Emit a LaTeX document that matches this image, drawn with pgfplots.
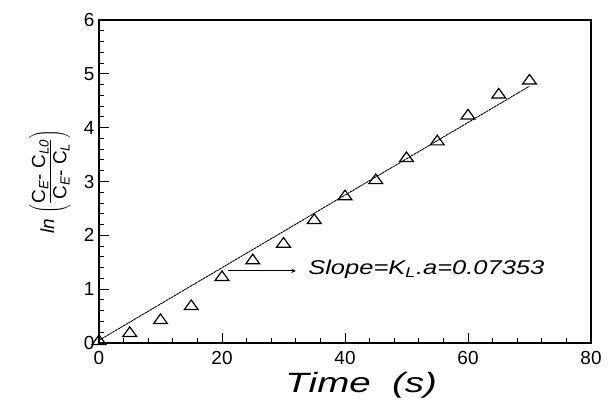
\documentclass[border=0pt]{standalone}
\usepackage{fontspec}
\setmainfont{Liberation Sans}
\usepackage{graphicx}
\usepackage{pgfplots}
\pgfplotsset{compat=1.18}
\begin{document}
\begin{tikzpicture}[x=1bp,y=1bp]
\useasboundingbox (0,0) rectangle (612,412);
\begin{axis}[
  at={(99bp,69bp)}, anchor=south west,
  scale only axis, width=492bp, height=323bp,
  xmin=0, xmax=80, ymin=0, ymax=6,
  xtick={0,20,40,60,80}, ytick={0,1,2,3,4,5,6},
  minor x tick num=4, minor y tick num=4,
  xtick pos=lower, ytick pos=left,
  tick align=inside,
  major tick length=10bp, minor tick length=5bp,
  axis line style={line width=1.3bp},
  every tick/.style={line width=1bp, black},
  /pgf/number format/assume math mode=true,
  tick label style={font=\fontsize{19}{21}\selectfont},
  xticklabel style={yshift=-5bp},
  yticklabel style={xshift=-1bp},
  xlabel={\scalebox{1.38}[1]{\textit{Time\ \ (s)}}},
  xlabel style={font=\fontsize{28}{30}\selectfont, at={(axis description cs:0.533,-0.13)}, anchor=center},
  ylabel={\textit{ln} $\left(\rule[-16bp]{0pt}{36bp}\frac{\mbox{\rule[-4bp]{0pt}{10bp}C\textsubscript{\textit{E}}- C\textsubscript{\textit{L0}}}}{\mbox{\rule{0pt}{16bp}C\textsubscript{\textit{E}}- C\textsubscript{\textit{L}}}}\right)$},
  ylabel style={font=\fontsize{19}{22}\selectfont, at={(axis description cs:-0.1,0.5)}, anchor=center},
  clip=false,
]
\addplot[black, line width=0.9bp, dash pattern=on 2.5bp off 0.6bp] coordinates {(0,0.05) (70,4.77)};
\addplot[only marks, mark=triangle, mark size=8bp, mark options={line width=1.2bp, yscale=0.8, fill=white, draw=black}] coordinates {
(0,0.03) (5,0.18) (10,0.42) (15,0.68) (20,1.22) (25,1.53) (30,1.84) (35,2.28) (40,2.72)
(45,3.02) (50,3.43) (55,3.74) (60,4.22) (65,4.61) (70,4.87)};
\draw[->, line width=1bp, >=stealth] (axis cs:21,1.34) -- (axis cs:32,1.34);
\node[anchor=west, font=\fontsize{20}{22}\selectfont, inner sep=0] at (axis cs:34,1.37) {\scalebox{1.28}[1]{\textit{Slope=K\textsubscript{L}.a=0.07353}}};
\end{axis}
\end{tikzpicture}
\end{document}
